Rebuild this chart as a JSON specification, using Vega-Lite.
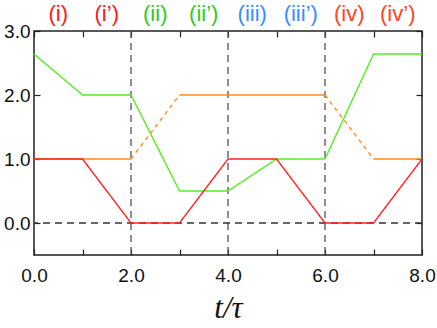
{
  "$schema": "https://vega.github.io/schema/vega-lite/v6.json",
  "autosize": {"type": "none"},
  "width": 388,
  "height": 224,
  "padding": {"left": 34, "top": 31, "right": 15, "bottom": 73},
  "background": "white",
  "config": {
    "view": {"stroke": "#222", "strokeWidth": 1.5},
    "axis": {
      "labelFont": "Liberation Sans",
      "labelFontSize": 19,
      "labelColor": "#111",
      "labelFlush": false,
      "tickColor": "#222",
      "tickSize": -6,
      "tickWidth": 1.2,
      "grid": false,
      "domain": false
    }
  },
  "datasets": {
    "lines": [
      {"series": "green", "seg": "g", "style": "solid", "x": 0, "y": 2.64},
      {"series": "green", "seg": "g", "style": "solid", "x": 1, "y": 2},
      {"series": "green", "seg": "g", "style": "solid", "x": 2, "y": 2},
      {"series": "green", "seg": "g", "style": "solid", "x": 3, "y": 0.5},
      {"series": "green", "seg": "g", "style": "solid", "x": 4, "y": 0.5},
      {"series": "green", "seg": "g", "style": "solid", "x": 5, "y": 1},
      {"series": "green", "seg": "g", "style": "solid", "x": 6, "y": 1},
      {"series": "green", "seg": "g", "style": "solid", "x": 7, "y": 2.64},
      {"series": "green", "seg": "g", "style": "solid", "x": 8, "y": 2.64},
      {"series": "orange", "seg": "o1", "style": "solid", "x": 0, "y": 1},
      {"series": "orange", "seg": "o1", "style": "solid", "x": 2, "y": 1},
      {"series": "orange", "seg": "o2", "style": "dashed", "x": 2, "y": 1},
      {"series": "orange", "seg": "o2", "style": "dashed", "x": 3, "y": 2},
      {"series": "orange", "seg": "o3", "style": "solid", "x": 3, "y": 2},
      {"series": "orange", "seg": "o3", "style": "solid", "x": 6, "y": 2},
      {"series": "orange", "seg": "o4", "style": "dashed", "x": 6, "y": 2},
      {"series": "orange", "seg": "o4", "style": "dashed", "x": 7, "y": 1},
      {"series": "orange", "seg": "o5", "style": "solid", "x": 7, "y": 1},
      {"series": "orange", "seg": "o5", "style": "solid", "x": 8, "y": 1},
      {"series": "red", "seg": "r", "style": "solid", "x": 0, "y": 1},
      {"series": "red", "seg": "r", "style": "solid", "x": 1, "y": 1},
      {"series": "red", "seg": "r", "style": "solid", "x": 2, "y": 0},
      {"series": "red", "seg": "r", "style": "solid", "x": 3, "y": 0},
      {"series": "red", "seg": "r", "style": "solid", "x": 4, "y": 1},
      {"series": "red", "seg": "r", "style": "solid", "x": 5, "y": 1},
      {"series": "red", "seg": "r", "style": "solid", "x": 6, "y": 0},
      {"series": "red", "seg": "r", "style": "solid", "x": 7, "y": 0},
      {"series": "red", "seg": "r", "style": "solid", "x": 8, "y": 1}
    ],
    "vlines": [{"x": 2}, {"x": 4}, {"x": 6}],
    "hlines": [{"y": 0}],
    "labels": [
      {"x": 0.5, "y": 3.26, "label": "(i)", "grp": "i"},
      {"x": 1.5, "y": 3.26, "label": "(i’)", "grp": "i"},
      {"x": 2.5, "y": 3.26, "label": "(ii)", "grp": "ii"},
      {"x": 3.5, "y": 3.26, "label": "(ii’)", "grp": "ii"},
      {"x": 4.5, "y": 3.26, "label": "(iii)", "grp": "iii"},
      {"x": 5.5, "y": 3.26, "label": "(iii’)", "grp": "iii"},
      {"x": 6.5, "y": 3.26, "label": "(iv)", "grp": "iv"},
      {"x": 7.5, "y": 3.26, "label": "(iv’)", "grp": "iv"}
    ]
  },
  "layer": [
    {
      "data": {"name": "vlines"},
      "mark": {"type": "rule", "color": "#555", "strokeWidth": 1.3, "strokeDash": [7, 5]},
      "encoding": {
        "x": {
          "field": "x", "type": "quantitative",
          "scale": {"domain": [0, 8], "nice": false},
          "axis": {"orient": "top", "values": [0, 1, 2, 3, 4, 5, 6, 7, 8], "labels": false, "title": null}
        }
      }
    },
    {
      "data": {"name": "hlines"},
      "mark": {"type": "rule", "color": "#333", "strokeWidth": 1.3, "strokeDash": [7, 5]},
      "encoding": {
        "y": {
          "field": "y", "type": "quantitative",
          "scale": {"domain": [-0.5, 3], "nice": false},
          "axis": {"orient": "right", "values": [0, 1, 2, 3], "labels": false, "title": null}
        }
      }
    },
    {
      "data": {"name": "lines"},
      "mark": {"type": "line", "strokeWidth": 1.4},
      "encoding": {
        "x": {
          "field": "x", "type": "quantitative",
          "scale": {"domain": [0, 8], "nice": false},
          "axis": {
            "orient": "bottom",
            "values": [0, 1, 2, 3, 4, 5, 6, 7, 8],
            "labelExpr": "datum.value % 2 == 0 ? format(datum.value, '.1f') : ''",
            "labelPadding": 17,
            "title": "t/τ",
            "titleFont": "Liberation Serif",
            "titleFontStyle": "italic",
            "titleFontWeight": "normal",
            "titleFontSize": 31,
            "titleColor": "#111",
            "titlePadding": 8
          }
        },
        "y": {
          "field": "y", "type": "quantitative",
          "scale": {"domain": [-0.5, 3], "nice": false},
          "axis": {
            "orient": "left",
            "values": [0, 1, 2, 3],
            "format": ".1f",
            "labelPadding": 10,
            "title": null
          }
        },
        "color": {
          "field": "series", "type": "nominal",
          "scale": {"domain": ["green", "red", "orange"], "range": ["#55ee22", "#ff2222", "#ff8c1a"]},
          "legend": null
        },
        "strokeDash": {
          "field": "style", "type": "nominal",
          "scale": {"domain": ["solid", "dashed"], "range": [[1, 0], [4, 4]]},
          "legend": null
        },
        "detail": {"field": "seg"},
        "order": {"field": "x"}
      }
    },
    {
      "data": {"name": "labels"},
      "mark": {"type": "text", "font": "Liberation Sans", "fontSize": 22, "baseline": "middle", "align": "center"},
      "encoding": {
        "x": {"field": "x", "type": "quantitative", "axis": null},
        "y": {"field": "y", "type": "quantitative", "axis": null},
        "text": {"field": "label"},
        "color": {
          "field": "grp", "type": "nominal",
          "scale": {"domain": ["i", "ii", "iii", "iv"], "range": ["#ff1a1a", "#2fcc20", "#3a8cff", "#ff4422"]},
          "legend": null
        }
      }
    }
  ],
  "resolve": {"scale": {"color": "independent"}}
}
